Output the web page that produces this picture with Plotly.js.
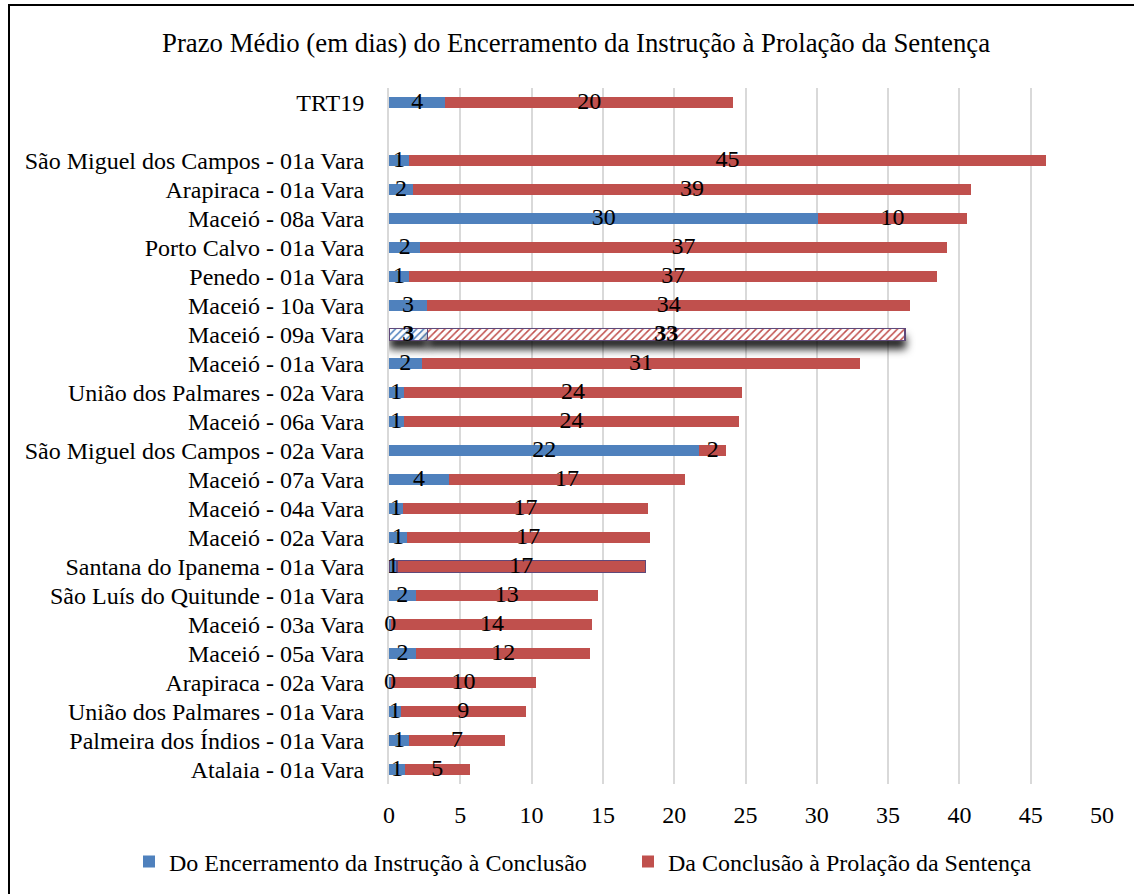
<!DOCTYPE html>
<html>
<head>
<meta charset="utf-8">
<script src="https://cdn.plot.ly/plotly-3.0.1.min.js"></script>
<style>
html,body{margin:0;padding:0;background:#fff;overflow:hidden;}
#chart{width:1134px;height:894px;}
#frame{position:absolute;left:8px;top:4px;width:1200px;height:1000px;border:2px solid #000;pointer-events:none;box-sizing:border-box;}
</style>
</head>
<body>
<div id="chart"></div>
<div id="frame"></div>
<script>
const categories = [
  'TRT19', ' ',
  'São Miguel dos Campos - 01a Vara', 'Arapiraca - 01a Vara', 'Maceió - 08a Vara',
  'Porto Calvo - 01a Vara', 'Penedo - 01a Vara', 'Maceió - 10a Vara', 'Maceió - 09a Vara',
  'Maceió - 01a Vara', 'União dos Palmares - 02a Vara', 'Maceió - 06a Vara',
  'São Miguel dos Campos - 02a Vara', 'Maceió - 07a Vara', 'Maceió - 04a Vara',
  'Maceió - 02a Vara', 'Santana do Ipanema - 01a Vara', 'São Luís do Quitunde - 01a Vara',
  'Maceió - 03a Vara', 'Maceió - 05a Vara', 'Arapiraca - 02a Vara',
  'União dos Palmares - 01a Vara', 'Palmeira dos Índios - 01a Vara', 'Atalaia - 01a Vara'
];
const encerramentoConclusao = [
  3.95, null,
  1.39, 1.67, 30.11,
  2.2, 1.4, 2.68, 2.7,
  2.28, 1.02, 1.02,
  21.76, 4.2, 0.98,
  1.25, 0.55, 1.86,
  0.17, 1.88, 0.15,
  0.83, 1.39, 1.11
];
const conclusaoSentenca = [
  20.2, null,
  44.7, 39.16, 10.4,
  36.9, 37.05, 33.86, 33.48,
  30.78, 23.75, 23.55,
  1.89, 16.57, 17.2,
  17.02, 17.45, 12.8,
  14.1, 12.25, 10.16,
  8.76, 6.74, 4.54
];
const seriesNames = ['Do Encerramento da Instrução à Conclusão', 'Da Conclusão à Prolação da Sentença'];
const hatchedCategory = 'Maceió - 09a Vara';
const outlinedCategory = 'Santana do Ipanema - 01a Vara';

const BLUE = '#4F81BD', RED = '#C0504D', PURPLE = '#5F497A';
const FONT = '"Liberation Serif", "Times New Roman", Times, serif';

const shapes = categories.map(c => c === hatchedCategory ? '/' : '');
const lineW = categories.map(c => (c === hatchedCategory || c === outlinedCategory) ? 1.5 : 0);
const lineC = categories.map(c => (c === hatchedCategory || c === outlinedCategory) ? PURPLE : 'rgba(0,0,0,0)');

function barTrace(vals, name, color) {
  return {
    type: 'bar', orientation: 'h', name: name,
    y: categories, x: vals,
    marker: {
      color: color,
      line: {color: lineC, width: lineW},
      pattern: {shape: shapes, fgcolor: color, bgcolor: 'white', size: 5, solidity: 0.3}
    },
    hoverinfo: 'skip'
  };
}

const labelX = [], labelY = [], labelT = [];
categories.forEach((c, i) => {
  const b = encerramentoConclusao[i], r = conclusaoSentenca[i];
  if (b == null || r == null) return;
  const bold = c === hatchedCategory;
  labelX.push(b / 2); labelY.push(c);
  labelT.push(bold ? '<b>' + Math.round(b) + '</b>' : String(Math.round(b)));
  labelX.push(b + r / 2); labelY.push(c);
  labelT.push(bold ? '<b>' + Math.round(r) + '</b>' : String(Math.round(r)));
});

const data = [
  barTrace(encerramentoConclusao, seriesNames[0], BLUE),
  barTrace(conclusaoSentenca, seriesNames[1], RED),
  {
    type: 'scatter', mode: 'text', x: labelX, y: labelY, text: labelT,
    textposition: 'middle center', textfont: {family: FONT, size: 24, color: '#000'},
    showlegend: false, hoverinfo: 'skip', cliponaxis: false
  }
];

const W = 1134, H = 894, ML = 389, MR = 32, MT = 88, MB = 110;
const plotW = W - ML - MR, plotH = H - MT - MB;

const layout = {
  width: W, height: H,
  margin: {l: ML, r: MR, t: MT, b: MB, autoexpand: false},
  paper_bgcolor: '#fff', plot_bgcolor: '#fff',
  font: {family: FONT, size: 24, color: '#000'},
  title: {
    text: 'Prazo Médio (em dias) do Encerramento da Instrução à Prolação da Sentença',
    font: {family: FONT, size: 26.8, color: '#000'},
    xref: 'container', x: 0.508, xanchor: 'center',
    yref: 'container', y: 1 - 43 / H, yanchor: 'middle'
  },
  barmode: 'stack', bargap: 0.59,
  xaxis: {
    range: [0, 50], dtick: 5, tick0: 0,
    showgrid: true, gridcolor: '#d9d9d9', gridwidth: 2,
    zeroline: false, showline: false, ticks: '', layer: 'below traces',
    tickfont: {family: FONT, size: 24, color: '#000'},
    ticklabelstandoff: 14, fixedrange: true
  },
  yaxis: {
    type: 'category', categoryorder: 'array', categoryarray: categories,
    range: [categories.length - 0.5, -0.5], autorange: false,
    tickmode: 'linear', tick0: 0, dtick: 1,
    showgrid: false, zeroline: false, layer: 'below traces',
    showline: true, linecolor: '#d9d9d9', linewidth: 2, ticks: '',
    tickfont: {family: FONT, size: 24, color: '#000'},
    ticklabelstandoff: 18, fixedrange: true
  },
  showlegend: true,
  legend: {
    orientation: 'h', xref: 'paper', yref: 'paper',
    x: (129 - ML) / plotW, xanchor: 'left',
    y: -(862 - (H - MB)) / plotH, yanchor: 'middle',
    font: {family: FONT, size: 24, color: '#000'},
    traceorder: 'normal', entrywidth: 454, entrywidthmode: 'pixels',
    bgcolor: 'rgba(0,0,0,0)'
  }
};

Plotly.newPlot('chart', data, layout, {displayModeBar: false, staticPlot: true}).then(gd => {
  const idx = categories.indexOf(hatchedCategory);
  gd.querySelectorAll('.barlayer .trace.bars').forEach(tr => {
    const pts = Array.from(tr.querySelectorAll('.point'));
    let el = pts.find(p => p.__data__ && p.__data__.i === idx);
    if (!el) el = pts.length === categories.length ? pts[idx] : pts[idx - 1];
    if (el) el.style.filter = 'drop-shadow(0px 8px 4px rgba(0,0,0,0.9))';
  });
});
</script>
</body>
</html>
